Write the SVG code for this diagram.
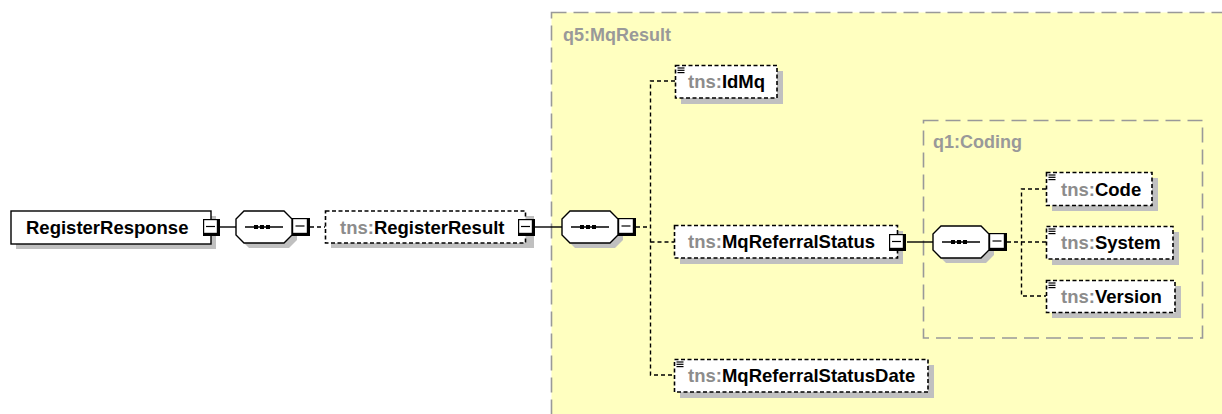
<svg xmlns="http://www.w3.org/2000/svg" xmlns:xlink="http://www.w3.org/1999/xlink" width="1222" height="414" viewBox="0 0 1222 414">
<style>
.bg{fill:#ffffff}
.grp{fill:#ffffc0;stroke:#999999;stroke-width:1.6;stroke-dasharray:15 7}
.grp2{fill:none;stroke:#999999;stroke-width:1.6;stroke-dasharray:15 7}
.glabel{font-family:"Liberation Sans",Arial,sans-serif;font-weight:bold;font-size:18px;fill:#999999}
.shadow{fill:#c0c0c0}
.box{fill:#ffffff;stroke:#000000;stroke-width:1.4}
.obox{fill:#ffffff;stroke:#000000;stroke-width:1.6;stroke-dasharray:4 2.5}
.txt{font-family:"Liberation Sans",Arial,sans-serif;font-weight:bold;font-size:18.5px;fill:#000000}
.ns{fill:#8c8c8c}
.solid{stroke:#000000;stroke-width:1.4;fill:none}
.dash{stroke:#000000;stroke-width:1.4;fill:none;stroke-dasharray:4 3}
.icon{stroke:#000000;stroke-width:1.2}
</style>
<defs>
<g id="minus">
<rect x="-8" y="-8" width="17" height="17" fill="#000000"/>
<rect x="-6.8" y="-6.8" width="12.6" height="12.6" fill="#ffffff"/>
<line x1="-5" y1="-0.5" x2="4" y2="-0.5" stroke="#000000" stroke-width="1.2"/>
</g>
<g id="seq">
<polygon points="13,5 53,5 61,13 61,29 53,37 13,37 5,29 5,13" class="shadow"/>
<polygon points="8,0 48,0 56,8 56,24 48,32 8,32 0,24 0,8" class="box"/>
<line x1="9" y1="16" x2="47" y2="16" stroke="#000000" stroke-width="1.3"/>
<rect x="18" y="14" width="4" height="4" fill="#000000"/>
<rect x="24" y="14" width="4" height="4" fill="#000000"/>
<rect x="30" y="14" width="4" height="4" fill="#000000"/>
<rect x="56" y="7" width="18" height="18" fill="#000000"/>
<rect x="57.2" y="8.2" width="13.6" height="13.6" fill="#ffffff"/>
<line x1="59.5" y1="15" x2="68.5" y2="15" stroke="#000000" stroke-width="1.2"/>
</g>
<g id="simple">
<line x1="0" y1="0" x2="7" y2="0" class="icon"/>
<line x1="0" y1="2.3" x2="7" y2="2.3" class="icon"/>
<line x1="0" y1="4.6" x2="7" y2="4.6" class="icon"/>
</g>
</defs>
<rect x="0" y="0" width="1222" height="414" class="bg"/>

<g id="group-MqResult">
<rect x="551.5" y="12.5" width="720" height="460" class="grp"/>
<text x="563" y="41" class="glabel">q5:MqResult</text>
</g>
<g id="group-Coding">
<rect x="923.5" y="120.5" width="279" height="217.5" class="grp2"/>
<text x="933" y="148" class="glabel">q1:Coding</text>
</g>

<g id="connectors">
<line x1="220" y1="227" x2="236" y2="227" class="solid"/>
<line x1="310" y1="227" x2="325" y2="227" class="dash"/>
<line x1="534" y1="227" x2="562" y2="227" class="solid"/>
<line x1="636" y1="227" x2="650" y2="227" class="dash"/>
<polyline points="675,81 650.5,81 650.5,375 674,375" class="dash"/>
<line x1="650.5" y1="242" x2="674" y2="242" class="dash"/>
<line x1="907" y1="242" x2="933" y2="242" class="solid"/>
<polyline points="1046,189 1021.5,189 1021.5,296 1046,296" class="dash"/>
<line x1="1007" y1="242" x2="1046" y2="242" class="dash"/>
</g>

<g id="node-RegisterResponse">
<rect x="16" y="216" width="200" height="33" class="shadow"/>
<rect x="11" y="211" width="200" height="33" class="box"/>
<text x="26" y="234" class="txt">RegisterResponse</text>
<use xlink:href="#minus" href="#minus" x="211" y="227"/>
</g>

<g id="seq-1">
<use xlink:href="#seq" href="#seq" x="236" y="211"/>
</g>

<g id="node-RegisterResult">
<rect x="331" y="216" width="203" height="32" class="shadow"/>
<rect x="325.5" y="211" width="200" height="32" class="obox"/>
<text x="340" y="233.5" class="txt"><tspan class="ns">tns:</tspan>RegisterResult</text>
<use xlink:href="#minus" href="#minus" x="526" y="227"/>
</g>

<g id="seq-2">
<use xlink:href="#seq" href="#seq" x="562" y="211"/>
</g>

<g id="node-IdMq">
<rect x="681" y="71" width="102" height="33" class="shadow"/>
<rect x="675.5" y="65.5" width="101.5" height="32.5" class="obox"/>
<use xlink:href="#simple" href="#simple" x="677.5" y="68"/>
<text x="688" y="88" class="txt"><tspan class="ns">tns:</tspan>IdMq</text>
</g>

<g id="node-MqReferralStatus">
<rect x="680" y="231" width="223" height="33" class="shadow"/>
<rect x="674.5" y="225.5" width="223" height="32.5" class="obox"/>
<text x="688" y="248" class="txt"><tspan class="ns">tns:</tspan>MqReferralStatus</text>
<use xlink:href="#minus" href="#minus" x="897" y="242"/>
</g>

<g id="seq-3">
<use xlink:href="#seq" href="#seq" x="933" y="226"/>
</g>

<g id="node-Code">
<rect x="1052" y="178" width="106" height="33" class="shadow"/>
<rect x="1046.5" y="172.5" width="105.5" height="33" class="obox"/>
<use xlink:href="#simple" href="#simple" x="1048.5" y="175"/>
<text x="1061" y="195.5" class="txt"><tspan class="ns">tns:</tspan>Code</text>
</g>

<g id="node-System">
<rect x="1052" y="232" width="127" height="33" class="shadow"/>
<rect x="1046.5" y="226.5" width="126.5" height="32.5" class="obox"/>
<use xlink:href="#simple" href="#simple" x="1048.5" y="229"/>
<text x="1061" y="249" class="txt"><tspan class="ns">tns:</tspan>System</text>
</g>

<g id="node-Version">
<rect x="1052" y="286" width="129" height="32" class="shadow"/>
<rect x="1046.5" y="280.5" width="128.5" height="32" class="obox"/>
<use xlink:href="#simple" href="#simple" x="1048.5" y="283"/>
<text x="1061" y="302.5" class="txt"><tspan class="ns">tns:</tspan>Version</text>
</g>

<g id="node-MqReferralStatusDate">
<rect x="680" y="365" width="254" height="33" class="shadow"/>
<rect x="674.5" y="359.5" width="253.5" height="32.5" class="obox"/>
<use xlink:href="#simple" href="#simple" x="676.5" y="362"/>
<text x="688" y="382" class="txt"><tspan class="ns">tns:</tspan>MqReferralStatusDate</text>
</g>
</svg>
